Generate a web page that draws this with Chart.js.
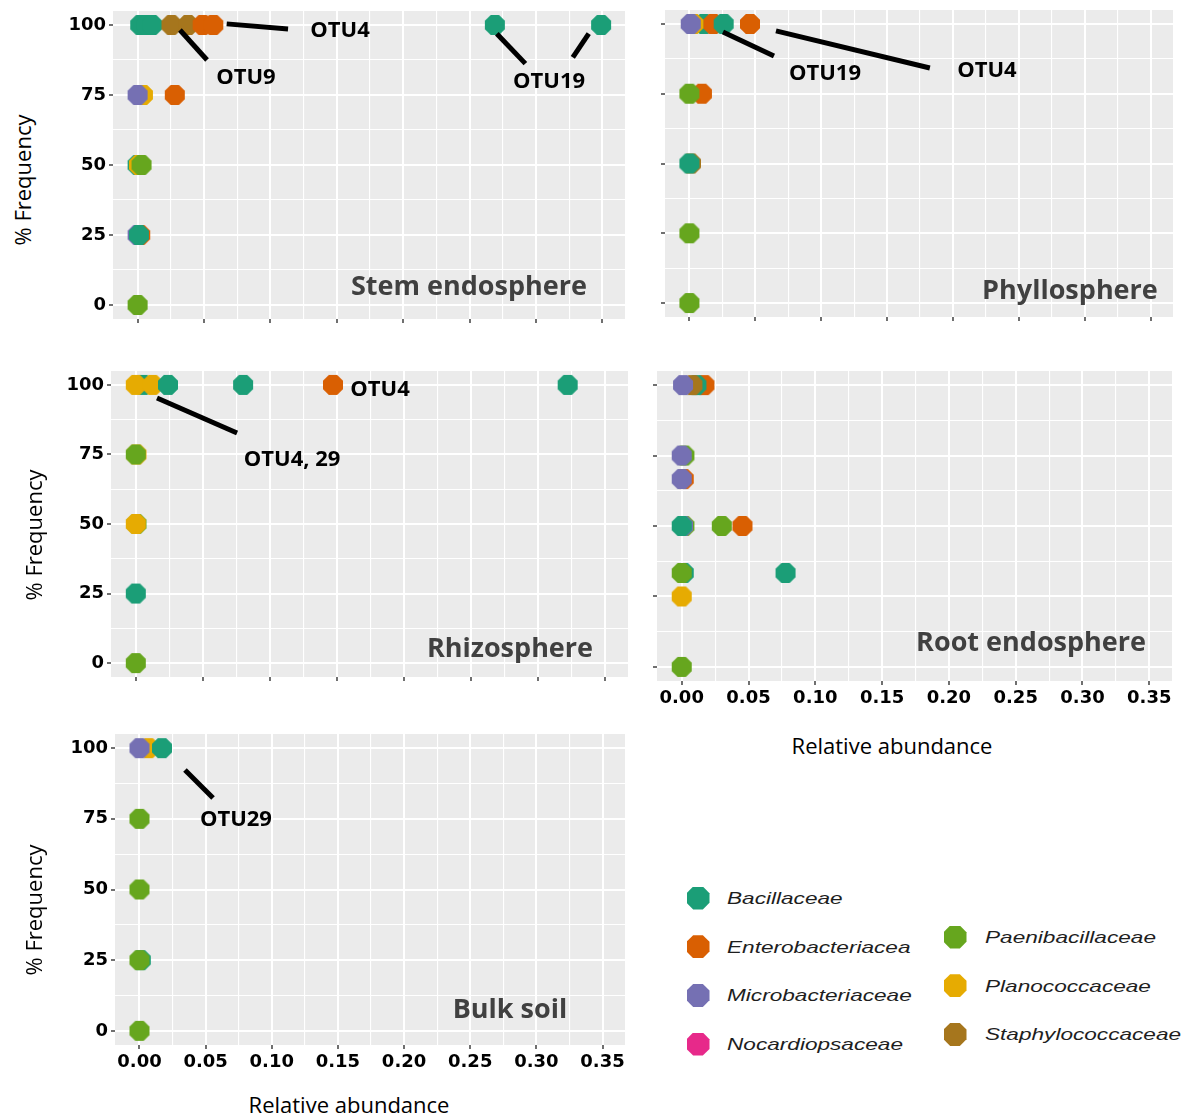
<!DOCTYPE html>
<html>
<head>
<meta charset="utf-8">
<title>OTU frequency vs relative abundance by compartment</title>
<script src="https://cdn.jsdelivr.net/npm/chart.js@4.4.1/dist/chart.umd.min.js"></script>
<style>
  html, body { margin: 0; padding: 0; background: #ffffff; }
  body { width: 1184px; height: 1116px; position: relative; overflow: hidden; font-family: "Open Sans", sans-serif; }
  canvas.panel { position: absolute; }
  .ytitle { position: absolute; white-space: nowrap; font-size: 22px; color: #000; transform: translate(-50%, -50%) rotate(-90deg); }
  .xtitle { position: absolute; white-space: nowrap; font-size: 22px; color: #000; transform: translate(-50%, -50%); }
  .leg-mark { position: absolute; width: 23px; height: 23px;
    clip-path: polygon(29% 0, 71% 0, 100% 29%, 100% 71%, 71% 100%, 29% 100%, 0 71%, 0 29%); }
  .leg-text { position: absolute; white-space: nowrap; font-family: "Liberation Sans", Arial, sans-serif; font-style: italic;
    font-size: 17px; color: #1e1e1e; transform-origin: 0 50%; transform: translateY(-50%) scaleX(1.33); }
</style>
</head>
<body>
<script>
// ---- families and colours (Dark2) ----
const families = ['Bacillaceae', 'Enterobacteriacea', 'Microbacteriaceae', 'Nocardiopsaceae',
                  'Paenibacillaceae', 'Planococcaceae', 'Staphylococcaceae'];
const familyColors = ['#1B9E77', '#D95F02', '#7570B3', '#E7298A', '#66A61E', '#E6AB02', '#A6761D'];

// ---- axis ticks ----
const xTickValues = [0, 0.05, 0.10, 0.15, 0.20, 0.25, 0.30, 0.35];
const yTickValues = [0, 25, 50, 75, 100];
const X_MIN = -0.0185, X_MAX = 0.367;
const Y_MIN = -5, Y_MAX = 105;

// ---- Stem endosphere ----
const stemFamily = ['Enterobacteriacea', 'Bacillaceae', 'Bacillaceae', 'Bacillaceae',
  'Staphylococcaceae', 'Staphylococcaceae', 'Enterobacteriacea', 'Enterobacteriacea',
  'Bacillaceae', 'Bacillaceae',
  'Planococcaceae', 'Microbacteriaceae', 'Enterobacteriacea',
  'Bacillaceae', 'Planococcaceae', 'Paenibacillaceae',
  'Microbacteriaceae', 'Enterobacteriacea', 'Bacillaceae',
  'Paenibacillaceae'];
const stemAbundance = [0.005, 0.002, 0.007, 0.011,
  0.0255, 0.038, 0.049, 0.057,
  0.269, 0.349,
  0.004, 0.000, 0.028,
  0.000, 0.001, 0.003,
  0.000, 0.002, 0.001,
  0.000];
const stemFrequency = [100, 100, 100, 100,
  100, 100, 100, 100,
  100, 100,
  75, 75, 75,
  50, 50, 50,
  25, 25, 25,
  0];

// ---- Phyllosphere ----
const phylloFamily = ['Bacillaceae', 'Enterobacteriacea', 'Bacillaceae', 'Enterobacteriacea',
  'Staphylococcaceae', 'Planococcaceae', 'Microbacteriaceae',
  'Enterobacteriacea', 'Paenibacillaceae',
  'Staphylococcaceae', 'Bacillaceae',
  'Paenibacillaceae',
  'Paenibacillaceae'];
const phylloAbundance = [0.011, 0.018, 0.026, 0.046,
  0.0025, 0.003, 0.001,
  0.0095, 0.000,
  0.0012, 0.000,
  0.000,
  0.000];
const phylloFrequency = [100, 100, 100, 100,
  100, 100, 100,
  75, 75,
  50, 50,
  25,
  0];

// ---- Rhizosphere ----
const rhizoFamily = ['Bacillaceae', 'Planococcaceae', 'Planococcaceae', 'Bacillaceae',
  'Bacillaceae', 'Enterobacteriacea', 'Bacillaceae',
  'Planococcaceae', 'Paenibacillaceae',
  'Paenibacillaceae', 'Planococcaceae',
  'Bacillaceae',
  'Paenibacillaceae'];
const rhizoAbundance = [0.0055, 0.000, 0.0125, 0.024,
  0.080, 0.147, 0.322,
  0.0005, 0.000,
  0.0005, 0.000,
  0.000,
  0.000];
const rhizoFrequency = [100, 100, 100, 100,
  100, 100, 100,
  75, 75,
  50, 50,
  25,
  0];

// ---- Root endosphere ----
const rootFamily = ['Enterobacteriacea', 'Bacillaceae', 'Staphylococcaceae', 'Microbacteriaceae',
  'Paenibacillaceae', 'Microbacteriaceae',
  'Enterobacteriacea', 'Microbacteriaceae',
  'Paenibacillaceae', 'Microbacteriaceae', 'Bacillaceae', 'Paenibacillaceae', 'Enterobacteriacea',
  'Bacillaceae', 'Paenibacillaceae', 'Bacillaceae',
  'Planococcaceae',
  'Paenibacillaceae'];
const rootAbundance = [0.017, 0.011, 0.008, 0.001,
  0.002, 0.000,
  0.0015, 0.000,
  0.002, 0.001, 0.000, 0.030, 0.0455,
  0.0015, 0.000, 0.0777,
  0.000,
  0.000];
const rootFrequency = [100, 100, 100, 100,
  75, 75,
  66.67, 66.67,
  50, 50, 50, 50, 50,
  33.33, 33.33, 33.33,
  25,
  0];

// ---- Bulk soil ----
const bulkFamily = ['Planococcaceae', 'Microbacteriaceae', 'Bacillaceae',
  'Paenibacillaceae', 'Paenibacillaceae',
  'Bacillaceae', 'Paenibacillaceae',
  'Paenibacillaceae'];
const bulkAbundance = [0.007, 0.000, 0.017,
  0.000, 0.000,
  0.001, 0.000,
  0.000];
const bulkFrequency = [100, 100, 100,
  75, 50,
  25, 25,
  0];

// ---- call-out labels (in axis units) ----
const stemCallouts = [
  { label: 'OTU4', at: [0.1524, 97.9], lines: [[0.0671, 100.4, 0.1133, 98.6]] },
  { label: 'OTU9', at: [0.0816, 81.1], lines: [[0.0319, 98.2, 0.0523, 87.5]] },
  { label: 'OTU19', at: [0.3098, 79.6], lines: [[0.2705, 96.9, 0.2920, 86.2], [0.3397, 96.9, 0.3277, 88.4]] }
];
const phylloCallouts = [
  { label: 'OTU19', at: [0.1029, 82.1], lines: [[0.0255, 97.1, 0.0642, 88.5]] },
  { label: 'OTU4', at: [0.2258, 83.1], lines: [[0.0657, 97.5, 0.1825, 84.2]] }
];
const rhizoCallouts = [
  { label: 'OTU4', at: [0.1821, 98.2], lines: [] },
  { label: 'OTU4, 29', at: [0.1165, 73.0], lines: [[0.0158, 95.3, 0.0755, 82.7]] }
];
const bulkCallouts = [
  { label: 'OTU29', at: [0.0729, 74.6], lines: [[0.0344, 92.3, 0.0556, 82.4]] }
];

// ---- styling ----
const PANEL_BG = '#EBEBEB';
const TICK_FONT = { family: '"DejaVu Sans", sans-serif', weight: 'bold', size: 18 };
const colorOf = name => familyColors[families.indexOf(name)];

// octagonal point markers, one per family colour
function octagon(color, flat) {
  const r = flat / 2 / Math.cos(Math.PI / 8);
  const size = Math.ceil(2 * r) + 2;
  const c = document.createElement('canvas');
  c.width = c.height = size;
  const g = c.getContext('2d');
  g.fillStyle = color;
  g.beginPath();
  for (let k = 0; k < 8; k++) {
    const a = Math.PI / 8 + k * Math.PI / 4;
    const px = size / 2 + r * Math.cos(a), py = size / 2 + r * Math.sin(a);
    if (k) g.lineTo(px, py); else g.moveTo(px, py);
  }
  g.closePath();
  g.fill();
  return c;
}
const markers = {};
families.forEach((f, i) => { markers[f] = octagon(familyColors[i], 20); });

// major + minor grid positions
function gridTicks(major) {
  const out = [];
  major.forEach((v, i) => {
    out.push({ value: v, isMajor: true });
    if (i < major.length - 1) out.push({ value: (v + major[i + 1]) / 2, isMajor: false });
  });
  return out;
}

function decorPlugin(title, callouts) {
  return {
    id: 'panelDecor',
    beforeDraw(chart) {
      const a = chart.chartArea, g = chart.ctx;
      g.save();
      g.fillStyle = PANEL_BG;
      g.fillRect(a.left, a.top, a.right - a.left, a.bottom - a.top);
      g.restore();
    },
    afterDatasetsDraw(chart) {
      const xs = chart.scales.x, ys = chart.scales.y, g = chart.ctx;
      g.save();
      g.strokeStyle = '#000';
      g.lineWidth = 5;
      g.lineCap = 'butt';
      g.textAlign = 'center';
      g.textBaseline = 'middle';
      for (const c of callouts) {
        for (const s of c.lines) {
          g.beginPath();
          g.moveTo(xs.getPixelForValue(s[0]), ys.getPixelForValue(s[1]));
          g.lineTo(xs.getPixelForValue(s[2]), ys.getPixelForValue(s[3]));
          g.stroke();
        }
        g.fillStyle = '#000';
        g.font = 'bold 22px "Open Sans", sans-serif';
        g.fillText(c.label, xs.getPixelForValue(c.at[0]), ys.getPixelForValue(c.at[1]));
      }
      g.fillStyle = '#404040';
      g.font = 'bold 27px "Open Sans", sans-serif';
      g.fillText(title.text, xs.getPixelForValue(title.at[0]), ys.getPixelForValue(title.at[1]));
      g.restore();
    }
  };
}

function makePanel(p) {
  const [l, t, r, b] = p.area;
  const cv = document.createElement('canvas');
  cv.className = 'panel';
  cv.width = (r - l) + 80;
  cv.height = (b - t) + 60;
  cv.style.left = (l - 70) + 'px';
  cv.style.top = (t - 20) + 'px';
  document.body.appendChild(cv);

  const points = p.abundance.map((v, i) => ({ x: v, y: p.frequency[i] }));
  const xGrid = gridTicks(xTickValues);
  const yGrid = gridTicks(yTickValues);

  new Chart(cv, {
    type: 'scatter',
    data: {
      datasets: [{
        label: p.title.text,
        data: points,
        pointRadius: 10,
        pointHoverRadius: 10,
        pointStyle: ctx => markers[p.family[ctx.dataIndex]],
        backgroundColor: ctx => colorOf(p.family[ctx.dataIndex]),
        borderWidth: 0
      }]
    },
    options: {
      responsive: false,
      devicePixelRatio: 1,
      animation: false,
      events: [],
      layout: { padding: { top: 20, right: 10, left: 0, bottom: 0 } },
      plugins: { legend: { display: false }, tooltip: { enabled: false } },
      scales: {
        x: {
          type: 'linear', min: X_MIN, max: X_MAX,
          afterBuildTicks: s => { s.ticks = xGrid.map(o => ({ value: o.value, isMajor: o.isMajor })); },
          afterFit: s => { s.height = 40; },
          border: { display: false },
          grid: {
            color: '#ffffff',
            lineWidth: ctx => (ctx.tick && ctx.tick.isMajor) ? 2 : 1.1,
            drawTicks: true, tickLength: 4, tickWidth: 1.4,
            tickColor: ctx => (ctx.tick && ctx.tick.isMajor) ? '#333333' : 'rgba(0,0,0,0)'
          },
          ticks: {
            autoSkip: false, maxRotation: 0, padding: 3, color: '#000000', font: TICK_FONT,
            callback: (v, i, ticks) => (p.showX && ticks[i].isMajor) ? Number(v).toFixed(2) : ''
          }
        },
        y: {
          type: 'linear', min: Y_MIN, max: Y_MAX,
          afterBuildTicks: s => { s.ticks = yGrid.map(o => ({ value: o.value, isMajor: o.isMajor })); },
          afterFit: s => { s.width = 70; },
          border: { display: false },
          grid: {
            color: '#ffffff',
            lineWidth: ctx => (ctx.tick && ctx.tick.isMajor) ? 2 : 1.1,
            drawTicks: true, tickLength: 4, tickWidth: 1.4,
            tickColor: ctx => (ctx.tick && ctx.tick.isMajor) ? '#333333' : 'rgba(0,0,0,0)'
          },
          ticks: {
            autoSkip: false, padding: 3, color: '#000000', font: TICK_FONT,
            callback: (v, i, ticks) => (p.showY && ticks[i].isMajor) ? String(v) : ''
          }
        }
      }
    },
    plugins: [decorPlugin(p.title, p.callouts)]
  });
}

const panels = [
  { area: [113, 11, 625, 319], showX: false, showY: true,
    family: stemFamily, abundance: stemAbundance, frequency: stemFrequency,
    title: { text: 'Stem endosphere', at: [0.2495, 6.4] }, callouts: stemCallouts },
  { area: [665, 10, 1173, 317], showX: false, showY: false,
    family: phylloFamily, abundance: phylloAbundance, frequency: phylloFrequency,
    title: { text: 'Phyllosphere', at: [0.2888, 4.3] }, callouts: phylloCallouts },
  { area: [111, 371, 628, 677], showX: false, showY: true,
    family: rhizoFamily, abundance: rhizoAbundance, frequency: rhizoFrequency,
    title: { text: 'Rhizosphere', at: [0.279, 5.1] }, callouts: rhizoCallouts },
  { area: [657, 371, 1172, 681], showX: true, showY: false,
    family: rootFamily, abundance: rootAbundance, frequency: rootFrequency,
    title: { text: 'Root endosphere', at: [0.2615, 8.5] }, callouts: [] },
  { area: [115, 734, 625, 1045], showX: true, showY: true,
    family: bulkFamily, abundance: bulkAbundance, frequency: bulkFrequency,
    title: { text: 'Bulk soil', at: [0.28, 7.4] }, callouts: bulkCallouts }
];
panels.forEach(makePanel);

// axis titles
function addText(cls, text, x, y) {
  const d = document.createElement('div');
  d.className = cls;
  d.textContent = text;
  d.style.left = x + 'px';
  d.style.top = y + 'px';
  document.body.appendChild(d);
}
addText('ytitle', '% Frequency', 22, 180);
addText('ytitle', '% Frequency', 33, 535);
addText('ytitle', '% Frequency', 33, 910);
addText('xtitle', 'Relative abundance', 892, 745);
addText('xtitle', 'Relative abundance', 349, 1104);

// legend, two columns
const legendColumns = [[0, 1, 2, 3], [4, 5, 6]];
const legendLayout = [{ mx: 698, tx: 727, y0: 898 }, { mx: 955, tx: 985, y0: 937 }];
legendColumns.forEach((col, ci) => {
  const L = legendLayout[ci];
  col.forEach((fi, row) => {
    const y = L.y0 + row * 48.7;
    const m = document.createElement('div');
    m.className = 'leg-mark';
    m.style.background = familyColors[fi];
    m.style.left = (L.mx - 11.5) + 'px';
    m.style.top = (y - 11.5) + 'px';
    document.body.appendChild(m);
    const t = document.createElement('div');
    t.className = 'leg-text';
    t.textContent = families[fi];
    t.style.left = L.tx + 'px';
    t.style.top = (y + 1) + 'px';
    document.body.appendChild(t);
  });
});
</script>
</body>
</html>
